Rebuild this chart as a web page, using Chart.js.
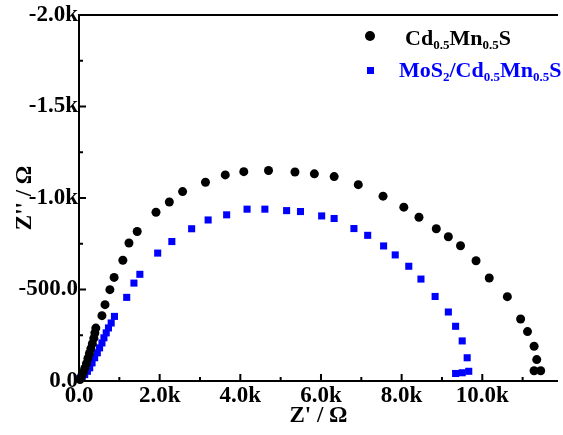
<!DOCTYPE html>
<html lang="en">
<head>
    <meta charset="UTF-8">
    <title>Nyquist plot</title>
    <script src="https://cdn.jsdelivr.net/npm/chart.js"></script>
    <style>
        body { margin: 0; overflow: hidden; background: #fff; }
        .wrap { position: relative; width: 563px; height: 435px; }
        .legend { position: absolute; left: 0; top: 0; font-family: "Liberation Serif", "Times New Roman", serif; font-weight: bold; font-size: 22px; line-height: 22px; }
        .row { position: absolute; white-space: nowrap; }
        .row sub { font-size: 13px; line-height: 22px; vertical-align: -4px; }
        .dot { position: absolute; width: 10px; height: 10px; border-radius: 50%; background: #000; }
        .sq { position: absolute; width: 7px; height: 7px; background: #0000ff; }
    </style>
</head>
<body>
    <div class="wrap">
        <canvas id="nyquist" width="563" height="435"></canvas>
        <div class="legend">
            <span class="dot" style="left:365px; top:31px;"></span>
            <div class="row" style="left:405px; top:27px; color:#000;">Cd<sub>0.5</sub>Mn<sub>0.5</sub>S</div>
            <span class="sq" style="left:367px; top:67px;"></span>
            <div class="row" style="left:399px; top:59px; color:#0000ff;">MoS<sub>2</sub>/Cd<sub>0.5</sub>Mn<sub>0.5</sub>S</div>
        </div>
    </div>

    <script>
        // Z' (ohm) and -Z'' plotted as negative values (ohm)
        const cdmnsRe = [25, 61, 103, 142, 184, 221, 258, 294, 331, 368, 393, 417, 569, 645, 766, 871, 1087, 1239, 1443,
            1909, 2240, 2569, 3136, 3627, 4086, 4699, 5355, 5836, 6327, 6925, 7539, 8054, 8430, 8859, 9158, 9460,
            9845, 10172, 10621, 10950, 11121, 11284, 11350, 11284, 11448];
        const cdmnsIm = [-8, -25, -46, -68, -95, -123, -150, -177, -204, -234, -262, -289, -357, -417, -499, -566, -660, -754, -817,
            -922, -978, -1035, -1086, -1126, -1144, -1150, -1142, -1132, -1117, -1073, -1010, -950, -895, -832, -788, -739,
            -657, -563, -461, -339, -270, -190, -117, -56, -56];

        const mosRe = [20, 79, 142, 209, 265, 324, 388, 454, 510, 569, 618, 675, 731, 798, 879, 1183, 1362, 1509, 1951,
            2302, 2793, 3202, 3661, 4167, 4609, 5148, 5492, 6017, 6326, 6817, 7158, 7553, 7841, 8177, 8479, 8830,
            9158, 9338, 9502, 9625, 9664, 9502, 9338];
        const mosIm = [-14, -23, -35, -53, -72, -99, -127, -154, -181, -208, -236, -263, -290, -317, -353, -457, -535, -583, -699,
            -762, -832, -880, -908, -939, -939, -931, -926, -902, -888, -833, -796, -738, -689, -627, -557, -462,
            -377, -299, -219, -127, -53, -45, -41];

        // labelled ticks, and all tick marks (major + minor)
        const xTicks = [0, 2000, 4000, 6000, 8000, 10000];
        const yTicks = [-2000, -1500, -1000, -500, 0];
        const xTickMarks = [0, 1000, 2000, 3000, 4000, 5000, 6000, 7000, 8000, 9000, 10000, 11000];
        const yTickMarks = [-2000, -1750, -1500, -1250, -1000, -750, -500, -250, 0];

        function fmt(v) {
            if (v === 0) return '0.0';
            if (Math.abs(v) >= 1000) return (v / 1000).toFixed(1) + 'k';
            return v.toFixed(1);
        }

        const toPoints = (xs, ys) => xs.map((v, i) => ({ x: v, y: ys[i] }));

        // axis frame with inward tick marks
        const frameTicks = {
            id: 'frameTicks',
            afterDatasetsDraw(chart) {
                const { ctx, chartArea: a, scales: { x, y } } = chart;
                ctx.save();
                ctx.strokeStyle = '#000';
                ctx.lineWidth = 2;
                ctx.beginPath();
                ctx.moveTo(a.left, a.top - 1);
                ctx.lineTo(a.left, a.bottom);
                ctx.lineTo(a.right, a.bottom);
                ctx.moveTo(a.left, a.top);
                ctx.lineTo(a.right, a.top);
                x.ticks.forEach(t => {
                    const px = x.getPixelForValue(t.value);
                    const len = xTicks.includes(t.value) ? 7 : 4;
                    ctx.moveTo(px, a.bottom);
                    ctx.lineTo(px, a.bottom - len);
                });
                y.ticks.forEach(t => {
                    const py = y.getPixelForValue(t.value);
                    const len = yTicks.includes(t.value) ? 7 : 4;
                    ctx.moveTo(a.left, py);
                    ctx.lineTo(a.left + len, py);
                });
                ctx.stroke();
                ctx.restore();
            }
        };

        const font = { family: '"Liberation Serif", "Times New Roman", serif', size: 23, weight: 'bold' };

        new Chart(document.getElementById('nyquist'), {
            type: 'scatter',
            data: {
                datasets: [
                    {
                        label: 'Cd0.5Mn0.5S',
                        data: toPoints(cdmnsRe, cdmnsIm),
                        pointStyle: 'circle',
                        pointRadius: 4.5,
                        backgroundColor: '#000',
                        borderColor: '#000',
                        borderWidth: 0,
                        clip: false
                    },
                    {
                        label: 'MoS2/Cd0.5Mn0.5S',
                        data: toPoints(mosRe, mosIm),
                        pointStyle: 'rect',
                        pointRadius: 5,
                        backgroundColor: '#0000ff',
                        borderColor: '#0000ff',
                        borderWidth: 0,
                        clip: false
                    }
                ]
            },
            options: {
                responsive: false,
                animation: false,
                layout: { padding: { top: 15, right: 0, left: 0, bottom: 0 } },
                plugins: { legend: { display: false }, tooltip: { enabled: false } },
                scales: {
                    x: {
                        type: 'linear',
                        min: 0,
                        max: 11877,
                        grid: { display: false, drawTicks: false },
                        border: { display: false },
                        afterBuildTicks: s => { s.ticks = xTickMarks.map(v => ({ value: v })); },
                        ticks: {
                            autoSkip: false,
                            maxRotation: 0,
                            padding: 1,
                            color: '#000',
                            font: font,
                            callback: v => xTicks.includes(v) ? fmt(v) : ''
                        },
                        title: { display: true, text: "Z' / Ω", color: '#000', font: font, padding: { top: 0, bottom: 5 } },
                        afterFit: s => { s.height = 54; }
                    },
                    y: {
                        type: 'linear',
                        reverse: true,
                        min: -2000,
                        max: 0,
                        grid: { display: false, drawTicks: false },
                        border: { display: false },
                        afterBuildTicks: s => { s.ticks = yTickMarks.map(v => ({ value: v })); },
                        ticks: {
                            autoSkip: false,
                            padding: 1,
                            color: '#000',
                            font: font,
                            callback: v => yTicks.includes(v) ? fmt(v) : ''
                        },
                        title: { display: true, text: "Z'' / Ω", color: '#000', font: font, padding: { top: 11, bottom: 0 } },
                        afterFit: s => { s.width = 79; }
                    }
                }
            },
            plugins: [frameTicks]
        });
    </script>
</body>
</html>
